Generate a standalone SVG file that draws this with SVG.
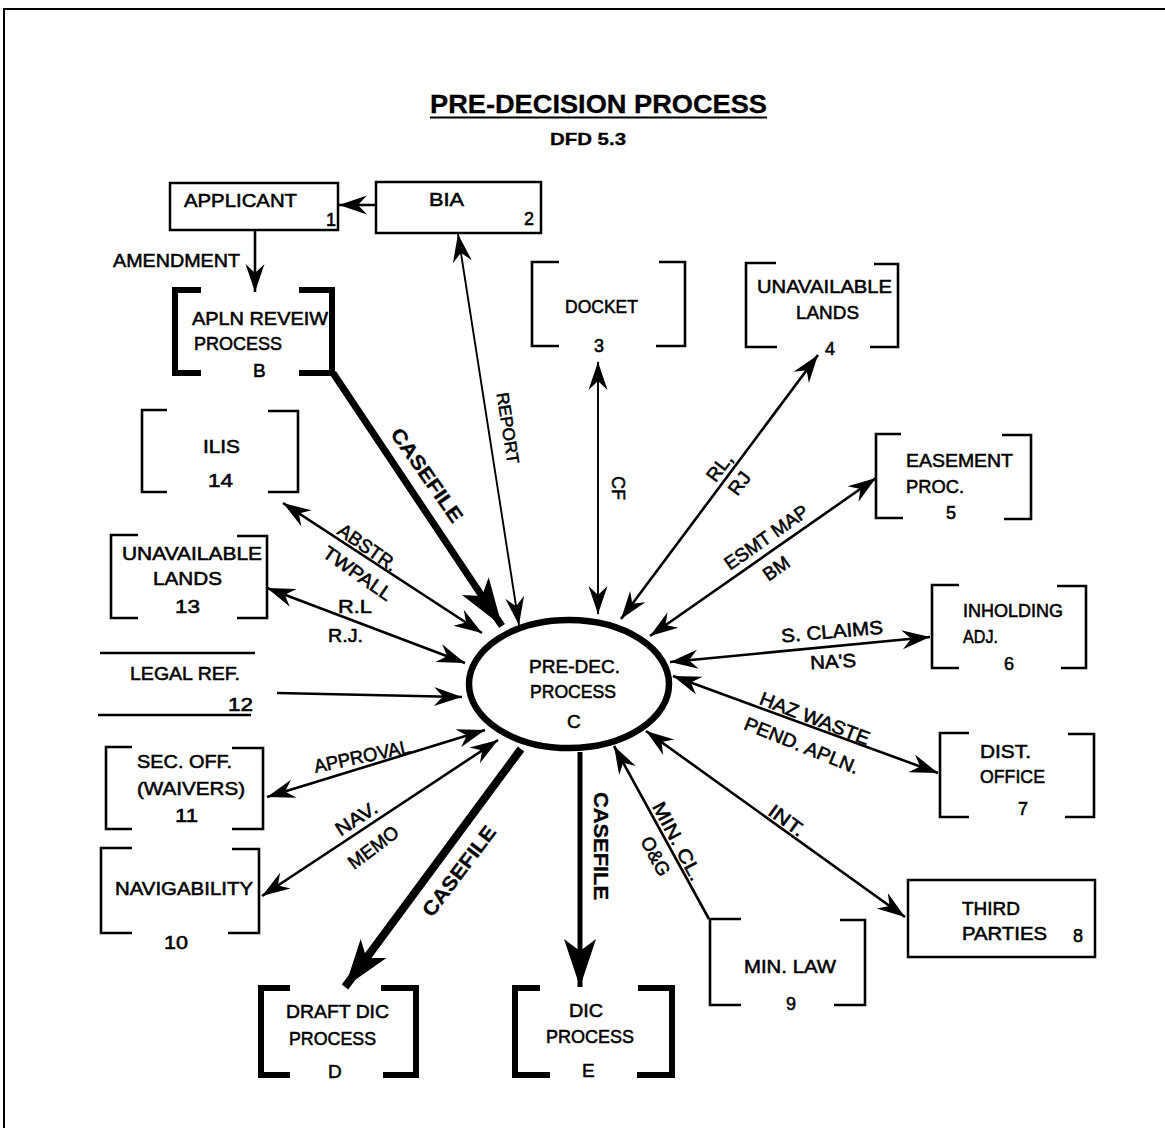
<svg xmlns="http://www.w3.org/2000/svg" width="1165" height="1128" viewBox="0 0 1165 1128">
<defs>
<style>
text{font-family:"Liberation Sans",Arial,sans-serif;font-size:19px;fill:#000;stroke:#000;stroke-width:0.55}
.b{font-weight:bold;stroke-width:0.3}
.num{font-size:18px}
.box{fill:#fff;stroke:#000;stroke-width:2.5}
.br{fill:none;stroke:#000;stroke-width:2.6}
.tbr{fill:none;stroke:#000;stroke-width:6}
.ln{fill:none;stroke:#000;stroke-width:2.6}
.thin{stroke-width:1.9}
.arr{marker-end:url(#ah)}
.arr2{marker-start:url(#ah);marker-end:url(#ah)}
</style>
<marker id="ah" viewBox="-30 -12 32 24" markerWidth="32" markerHeight="24" refX="0" refY="0" orient="auto-start-reverse" markerUnits="userSpaceOnUse">
<path d="M0,0 L-28,-9.5 L-19,0 L-28,9.5 Z" fill="#000"/>
</marker>
<marker id="big" viewBox="-52 -20 54 40" markerWidth="54" markerHeight="40" refX="0" refY="0" orient="auto" markerUnits="userSpaceOnUse">
<path d="M0,0 L-48,-16 L-36,0 L-48,16 Z" fill="#000"/>
</marker>
</defs>
<rect width="1165" height="1128" fill="#fff"/>
<path d="M4,1128 V9 H1165" fill="none" stroke="#000" stroke-width="2"/>

<g id="title">
<text x="430" y="113" class="b" textLength="337" lengthAdjust="spacingAndGlyphs" style="font-size:25px">PRE-DECISION  PROCESS</text>
<line x1="430" y1="117.5" x2="767" y2="117.5" stroke="#000" stroke-width="2"/>
<text x="550" y="145" class="b" textLength="76" lengthAdjust="spacingAndGlyphs" style="font-size:17px">DFD 5.3</text>
</g>

<g id="connectors">
<line class="ln arr" x1="376" y1="205" x2="339" y2="205"/>
<line class="ln arr" x1="255" y1="230" x2="255" y2="292"/>
<line x1="333" y1="373" x2="502" y2="626" stroke="#000" stroke-width="7" marker-end="url(#big)"/>
<line class="ln thin arr2" x1="519" y1="625" x2="458" y2="234"/>
<line class="ln thin arr2" x1="598" y1="614" x2="598" y2="362"/>
<line class="ln arr2" x1="621" y1="619" x2="818" y2="355"/>
<line class="ln arr2" x1="650" y1="636" x2="876" y2="478"/>
<line class="ln arr2" x1="670" y1="662" x2="930" y2="637"/>
<line class="ln arr2" x1="673" y1="676" x2="938" y2="773"/>
<line class="ln arr2" x1="646" y1="731" x2="905" y2="917"/>
<line class="ln arr" x1="709" y1="919" x2="614" y2="746"/>
<line x1="580" y1="752" x2="580" y2="987" stroke="#000" stroke-width="5" marker-end="url(#big)"/>
<line x1="521" y1="749" x2="345" y2="987" stroke="#000" stroke-width="8" marker-end="url(#big)"/>
<line class="ln arr2" x1="498" y1="740" x2="262" y2="896"/>
<line class="ln arr2" x1="485" y1="730" x2="267" y2="797"/>
<line class="ln arr" x1="277" y1="693" x2="462" y2="697"/>
<line class="ln arr2" x1="267" y1="588" x2="465" y2="663"/>
<line class="ln arr2" x1="283" y1="503" x2="482" y2="633"/>

<text x="113" y="267" textLength="127" lengthAdjust="spacingAndGlyphs">AMENDMENT</text>
<text class="b" transform="translate(427,475) rotate(55)" x="-55" y="7" textLength="110" lengthAdjust="spacingAndGlyphs" style="font-size:20px">CASEFILE</text>
<text transform="translate(508,428) rotate(81)" x="-36" y="6" textLength="72" lengthAdjust="spacingAndGlyphs" style="font-size:17px">REPORT</text>
<text transform="translate(619,488) rotate(90)" x="-12" y="7" textLength="24" lengthAdjust="spacingAndGlyphs">CF</text>
<text transform="translate(719,467) rotate(-53)" x="-15" y="7" textLength="30" lengthAdjust="spacingAndGlyphs">RL,</text>
<text transform="translate(739,483) rotate(-53)" x="-12" y="7" textLength="24" lengthAdjust="spacingAndGlyphs">RJ</text>
<text transform="translate(766,537) rotate(-35)" x="-49" y="7" textLength="98" lengthAdjust="spacingAndGlyphs">ESMT MAP</text>
<text transform="translate(776,568) rotate(-35)" x="-14" y="7" textLength="28" lengthAdjust="spacingAndGlyphs">BM</text>
<text transform="translate(832,631) rotate(-5)" x="-51" y="7" textLength="102" lengthAdjust="spacingAndGlyphs">S. CLAIMS</text>
<text transform="translate(833,661) rotate(-3)" x="-23" y="7" textLength="46" lengthAdjust="spacingAndGlyphs">NA'S</text>
<text transform="translate(815,718) rotate(21)" x="-58" y="7" textLength="116" lengthAdjust="spacingAndGlyphs">HAZ WASTE</text>
<text transform="translate(802,745) rotate(22)" x="-61" y="7" textLength="122" lengthAdjust="spacingAndGlyphs">PEND. APLN.</text>
<text transform="translate(787,820) rotate(36)" x="-20" y="7" textLength="40" lengthAdjust="spacingAndGlyphs">INT.</text>
<text transform="translate(678,841) rotate(62)" x="-43" y="7" textLength="86" lengthAdjust="spacingAndGlyphs">MIN. CL.</text>
<text transform="translate(656,856) rotate(62)" x="-21" y="7" textLength="42" lengthAdjust="spacingAndGlyphs">O&amp;G</text>
<text class="b" transform="translate(601,846) rotate(90)" x="-54" y="7" textLength="108" lengthAdjust="spacingAndGlyphs" style="font-size:20px">CASEFILE</text>
<text class="b" transform="translate(459,871) rotate(-53)" x="-54" y="7" textLength="108" lengthAdjust="spacingAndGlyphs" style="font-size:20px">CASEFILE</text>
<text transform="translate(356,818) rotate(-33)" x="-23" y="7" textLength="46" lengthAdjust="spacingAndGlyphs">NAV.</text>
<text transform="translate(373,847) rotate(-37)" x="-29" y="7" textLength="58" lengthAdjust="spacingAndGlyphs">MEMO</text>
<text transform="translate(362,756) rotate(-12)" x="-49" y="7" textLength="98" lengthAdjust="spacingAndGlyphs">APPROVAL</text>
<text x="338" y="613" textLength="34" lengthAdjust="spacingAndGlyphs">R.L</text>
<text x="328" y="642" textLength="35" lengthAdjust="spacingAndGlyphs">R.J.</text>
<text transform="translate(368,547) rotate(35)" x="-34" y="7" textLength="68" lengthAdjust="spacingAndGlyphs">ABSTR.</text>
<text transform="translate(358,573) rotate(35)" x="-40" y="7" textLength="80" lengthAdjust="spacingAndGlyphs">TWPALL</text>
</g>

<g id="n1">
<rect class="box" x="170" y="183" width="168" height="47"/>
<text x="184" y="207" textLength="113" lengthAdjust="spacingAndGlyphs">APPLICANT</text>
<text x="326" y="226" class="num">1</text>
</g>
<g id="n2">
<rect class="box" x="376" y="182" width="165" height="51"/>
<text x="429" y="206" textLength="35" lengthAdjust="spacingAndGlyphs">BIA</text>
<text x="524" y="225" class="num">2</text>
</g>
<g id="nB">
<path class="tbr" d="M201,290 H175 V373 H201 M299,290 H332 V373 H299"/>
<text x="192" y="325" textLength="136" lengthAdjust="spacingAndGlyphs">APLN REVEIW</text>
<text x="194" y="350" textLength="88" lengthAdjust="spacingAndGlyphs">PROCESS</text>
<text x="253" y="377">B</text>
</g>
<g id="n3">
<path class="br" d="M559,262 H532 V346 H559 M659,262 H685 V346 H656"/>
<text x="565" y="313" textLength="73" lengthAdjust="spacingAndGlyphs">DOCKET</text>
<text x="594" y="352" class="num">3</text>
</g>
<g id="n4">
<path class="br" d="M776,263 H746 V347 H777 M874,264 H898 V347 H870"/>
<text x="757" y="293" textLength="135" lengthAdjust="spacingAndGlyphs">UNAVAILABLE</text>
<text x="796" y="319" textLength="63" lengthAdjust="spacingAndGlyphs">LANDS</text>
<text x="825" y="355" class="num">4</text>
</g>
<g id="n5">
<path class="br" d="M901,434 H876 V518 H903 M1002,435 H1031 V519 H1004"/>
<text x="906" y="467" textLength="107" lengthAdjust="spacingAndGlyphs">EASEMENT</text>
<text x="906" y="493" textLength="58" lengthAdjust="spacingAndGlyphs">PROC.</text>
<text x="946" y="519" class="num">5</text>
</g>
<g id="n6">
<path class="br" d="M959,585 H932 V668 H959 M1057,586 H1086 V668 H1061"/>
<text x="963" y="617" textLength="100" lengthAdjust="spacingAndGlyphs">INHOLDING</text>
<text x="963" y="643" textLength="35" lengthAdjust="spacingAndGlyphs">ADJ.</text>
<text x="1004" y="670" class="num">6</text>
</g>
<g id="n7">
<path class="br" d="M969,733 H940 V817 H969 M1068,734 H1094 V817 H1065"/>
<text x="980" y="758" textLength="51" lengthAdjust="spacingAndGlyphs">DIST.</text>
<text x="980" y="783" textLength="65" lengthAdjust="spacingAndGlyphs">OFFICE</text>
<text x="1018" y="815" class="num">7</text>
</g>
<g id="n8">
<rect class="box" x="908" y="880" width="187" height="77"/>
<text x="962" y="915" textLength="58" lengthAdjust="spacingAndGlyphs">THIRD</text>
<text x="962" y="940" textLength="85" lengthAdjust="spacingAndGlyphs">PARTIES</text>
<text x="1073" y="942" class="num">8</text>
</g>
<g id="n9">
<path class="br" d="M741,919 H710 V1005 H741 M840,920 H865 V1005 H834"/>
<text x="744" y="973" textLength="92" lengthAdjust="spacingAndGlyphs">MIN. LAW</text>
<text x="786" y="1010" class="num">9</text>
</g>
<g id="nE">
<path class="tbr" d="M540,988 H515 V1075 H550 M638,988 H672 V1075 H637"/>
<text x="569" y="1017" textLength="34" lengthAdjust="spacingAndGlyphs">DIC</text>
<text x="546" y="1043" textLength="88" lengthAdjust="spacingAndGlyphs">PROCESS</text>
<text x="582" y="1077">E</text>
</g>
<g id="nD">
<path class="tbr" d="M290,988 H261 V1075 H290 M381,988 H416 V1075 H383"/>
<text x="286" y="1018" textLength="103" lengthAdjust="spacingAndGlyphs">DRAFT DIC</text>
<text x="289" y="1045" textLength="87" lengthAdjust="spacingAndGlyphs">PROCESS</text>
<text x="328" y="1078">D</text>
</g>
<g id="n10">
<path class="br" d="M132,848 H101 V933 H132 M232,849 H259 V933 H228"/>
<text x="115" y="895" textLength="138" lengthAdjust="spacingAndGlyphs">NAVIGABILITY</text>
<text x="164" y="949" class="num" textLength="24" lengthAdjust="spacingAndGlyphs">10</text>
</g>
<g id="n11">
<path class="br" d="M132,747 H106 V829 H132 M232,748 H263 V829 H232"/>
<text x="137" y="768" textLength="95" lengthAdjust="spacingAndGlyphs">SEC. OFF.</text>
<text x="137" y="795" textLength="108" lengthAdjust="spacingAndGlyphs">(WAIVERS)</text>
<text x="175" y="822" class="num" textLength="23" lengthAdjust="spacingAndGlyphs">11</text>
</g>
<g id="n12">
<path class="br" d="M100,653 H255 M98,715 H251"/>
<text x="130" y="680" textLength="110" lengthAdjust="spacingAndGlyphs">LEGAL REF.</text>
<text x="228" y="711" class="num" textLength="25" lengthAdjust="spacingAndGlyphs">12</text>
</g>
<g id="n13">
<path class="br" d="M138,535 H111 V618 H138 M237,536 H267 V618 H237"/>
<text x="122" y="560" textLength="140" lengthAdjust="spacingAndGlyphs">UNAVAILABLE</text>
<text x="153" y="585" textLength="69" lengthAdjust="spacingAndGlyphs">LANDS</text>
<text x="175" y="613" class="num" textLength="25" lengthAdjust="spacingAndGlyphs">13</text>
</g>
<g id="n14">
<path class="br" d="M167,410 H142 V492 H167 M268,411 H298 V492 H268"/>
<text x="203" y="453" textLength="37" lengthAdjust="spacingAndGlyphs">ILIS</text>
<text x="208" y="487" class="num" textLength="25" lengthAdjust="spacingAndGlyphs">14</text>
</g>
<g id="nC">
<ellipse cx="569" cy="684" rx="100" ry="64" fill="#fff" stroke="#000" stroke-width="6.5"/>
<text x="529" y="673" textLength="91" lengthAdjust="spacingAndGlyphs">PRE-DEC.</text>
<text x="530" y="698" textLength="86" lengthAdjust="spacingAndGlyphs">PROCESS</text>
<text x="567" y="728">C</text>
</g>
</svg>
